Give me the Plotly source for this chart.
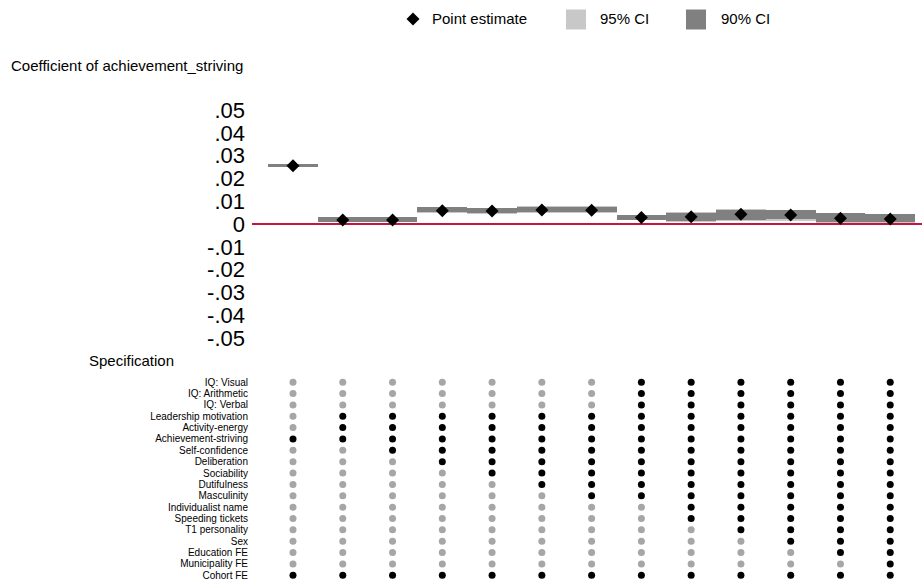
import plotly.graph_objects as go

W, H = 922, 582

# ---------------- data ----------------
specs = list(range(1, 14))
estimate = [0.0256, 0.0018, 0.0018, 0.0058, 0.0057, 0.0061, 0.0060,
            0.0029, 0.0032, 0.0043, 0.0039, 0.0025, 0.0022]
ci90_lo = [0.0249, 0.0010, 0.0010, 0.0051, 0.0048, 0.0051, 0.0051,
           0.0018, 0.0013, 0.0018, 0.0022, 0.0008, 0.0007]
ci90_hi = [0.0263, 0.0031, 0.0031, 0.0073, 0.0069, 0.0076, 0.0076,
           0.0039, 0.0050, 0.0061, 0.0061, 0.0047, 0.0043]
ci95_lo = [0.0248, 0.0009, 0.0009, 0.0049, 0.0046, 0.0049, 0.0049,
           0.0016, 0.0010, 0.0013, 0.0013, 0.0005, 0.0004]
ci95_hi = [0.0264, 0.0032, 0.0032, 0.0075, 0.0071, 0.0078, 0.0078,
           0.0041, 0.0053, 0.0064, 0.0063, 0.0049, 0.0045]

ytick_vals = [0.05, 0.04, 0.03, 0.02, 0.01, 0, -0.01, -0.02, -0.03, -0.04, -0.05]
ytick_text = [".05", ".04", ".03", ".02", ".01", "0", "-.01", "-.02", "-.03", "-.04", "-.05"]

controls = ["IQ: Visual", "IQ: Arithmetic", "IQ: Verbal", "Leadership motivation",
            "Activity-energy", "Achievement-striving", "Self-confidence", "Deliberation",
            "Sociability", "Dutifulness", "Masculinity", "Individualist name",
            "Speeding tickets", "T1 personality", "Sex", "Education FE",
            "Municipality FE", "Cohort FE"]
included = {
    "IQ: Visual":            [0, 0, 0, 0, 0, 0, 0, 1, 1, 1, 1, 1, 1],
    "IQ: Arithmetic":        [0, 0, 0, 0, 0, 0, 0, 1, 1, 1, 1, 1, 1],
    "IQ: Verbal":            [0, 0, 0, 0, 0, 0, 0, 1, 1, 1, 1, 1, 1],
    "Leadership motivation": [0, 1, 1, 1, 1, 1, 1, 1, 1, 1, 1, 1, 1],
    "Activity-energy":       [0, 1, 1, 1, 1, 1, 1, 1, 1, 1, 1, 1, 1],
    "Achievement-striving":  [1, 1, 1, 1, 1, 1, 1, 1, 1, 1, 1, 1, 1],
    "Self-confidence":       [0, 0, 1, 1, 1, 1, 1, 1, 1, 1, 1, 1, 1],
    "Deliberation":          [0, 0, 0, 1, 1, 1, 1, 1, 1, 1, 1, 1, 1],
    "Sociability":           [0, 0, 0, 0, 1, 1, 1, 1, 1, 1, 1, 1, 1],
    "Dutifulness":           [0, 0, 0, 0, 0, 1, 1, 1, 1, 1, 1, 1, 1],
    "Masculinity":           [0, 0, 0, 0, 0, 0, 1, 1, 1, 1, 1, 1, 1],
    "Individualist name":    [0, 0, 0, 0, 0, 0, 0, 0, 1, 1, 1, 1, 1],
    "Speeding tickets":      [0, 0, 0, 0, 0, 0, 0, 0, 1, 1, 1, 1, 1],
    "T1 personality":        [0, 0, 0, 0, 0, 0, 0, 0, 0, 1, 1, 1, 1],
    "Sex":                   [0, 0, 0, 0, 0, 0, 0, 0, 0, 0, 1, 1, 1],
    "Education FE":          [0, 0, 0, 0, 0, 0, 0, 0, 0, 0, 0, 1, 1],
    "Municipality FE":       [0, 0, 0, 0, 0, 0, 0, 0, 0, 0, 0, 0, 1],
    "Cohort FE":             [1, 1, 1, 1, 1, 1, 1, 1, 1, 1, 1, 1, 1],
}

# ---------------- style ----------------
FONT = "Arial, Liberation Sans, sans-serif"
C95 = "#c8c8c8"
C90 = "#808080"
CRED = "#c8153f"
CGREY = "#a6a6a6"


def px(x):
    return x / W


def py(y):
    return 1 - y / H


fig = go.Figure()

# CI bars
fig.add_trace(go.Bar(x=specs, base=ci95_lo,
                     y=[h - l for h, l in zip(ci95_hi, ci95_lo)],
                     width=1, marker=dict(color=C95, line=dict(width=0)),
                     name="95% CI", showlegend=False, hoverinfo="skip"))
fig.add_trace(go.Bar(x=specs, base=ci90_lo,
                     y=[h - l for h, l in zip(ci90_hi, ci90_lo)],
                     width=1, marker=dict(color=C90, line=dict(width=0)),
                     name="90% CI", showlegend=False, hoverinfo="skip"))
fig.add_trace(go.Scatter(x=specs, y=estimate, mode="markers",
                         marker=dict(symbol="diamond", size=10, color="black"),
                         name="Point estimate", showlegend=False, cliponaxis=False))

# specification matrix
xin, yin, xout, yout = [], [], [], []
for r, name in enumerate(controls):
    for c, flag in zip(specs, included[name]):
        if flag:
            xin.append(c); yin.append(r)
        else:
            xout.append(c); yout.append(r)
fig.add_trace(go.Scatter(x=xout, y=yout, mode="markers", yaxis="y2",
                         marker=dict(size=7, color=CGREY), showlegend=False,
                         cliponaxis=False))
fig.add_trace(go.Scatter(x=xin, y=yin, mode="markers", yaxis="y2",
                         marker=dict(size=7, color="black"), showlegend=False,
                         cliponaxis=False))

# axes geometry
x_left_px, col1_px, step_px = 252, 293, 49.77
x0 = 1 - (col1_px - x_left_px) / step_px
x1 = 1 + (W - col1_px) / step_px

fig.update_layout(
    width=W, height=H,
    margin=dict(l=0, r=0, t=0, b=0, pad=0, autoexpand=False),
    paper_bgcolor="white", plot_bgcolor="white",
    font=dict(family=FONT, color="black"),
    barmode="overlay", bargap=0,
    showlegend=False,
    xaxis=dict(domain=[px(x_left_px), 1], range=[x0, x1], visible=False,
               fixedrange=True, automargin=False),
    yaxis=dict(domain=[py(338), py(110)], range=[-0.05, 0.05],
               tickvals=ytick_vals, ticktext=ytick_text,
               tickfont=dict(size=22, family=FONT, color="black"),
               showgrid=False, showline=False, ticks="", automargin=False,
               zeroline=True, zerolinecolor=CRED, zerolinewidth=1.5,
               ticklabelstandoff=6),
    yaxis2=dict(domain=[py(581), py(376.5)], range=[17.5, -0.5],
                anchor="x", automargin=False,
                tickvals=list(range(len(controls))), ticktext=controls,
                tickfont=dict(size=10, family=FONT, color="black"),
                showgrid=False, showline=False, ticks="", zeroline=False,
                ticklabelstandoff=3),
)

# titles
fig.add_annotation(x=px(9), y=py(65), xref="paper", yref="paper",
                   text="Coefficient of achievement_striving", showarrow=False,
                   xanchor="left", yanchor="middle",
                   font=dict(size=15, family=FONT, color="black"))
fig.add_annotation(x=px(87), y=py(360), xref="paper", yref="paper",
                   text="Specification", showarrow=False,
                   xanchor="left", yanchor="middle",
                   font=dict(size=15, family=FONT, color="black"))

# legend (drawn manually to match glyph sizes)
lx, ly = 413, 19
fig.add_shape(type="path", xref="paper", yref="paper",
              path=(f"M {px(lx-6.5)} {py(ly)} L {px(lx)} {py(ly-6.5)} "
                    f"L {px(lx+6.5)} {py(ly)} L {px(lx)} {py(ly+6.5)} Z"),
              fillcolor="black", line=dict(width=0))
fig.add_shape(type="rect", xref="paper", yref="paper",
              x0=px(566), x1=px(586), y0=py(29.5), y1=py(9.5),
              fillcolor=C95, line=dict(width=0))
fig.add_shape(type="rect", xref="paper", yref="paper",
              x0=px(686), x1=px(706), y0=py(29.5), y1=py(9.5),
              fillcolor=C90, line=dict(width=0))
for tx, label in [(430, "Point estimate"), (598, "95% CI"), (719, "90% CI")]:
    fig.add_annotation(x=px(tx), y=py(ly), xref="paper", yref="paper",
                       text=label, showarrow=False, xanchor="left",
                       yanchor="middle",
                       font=dict(size=15, family=FONT, color="black"))

fig.write_html("out.html")
